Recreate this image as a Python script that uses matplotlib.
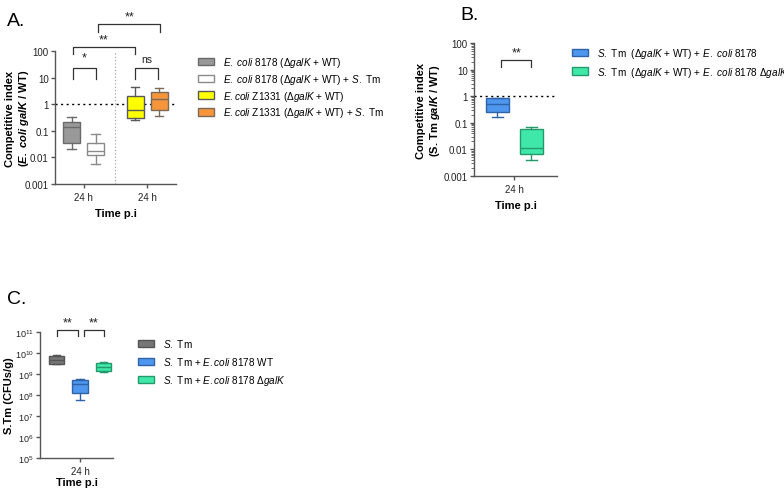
import matplotlib
matplotlib.use("Agg")
import matplotlib.pyplot as plt
from matplotlib.patches import Patch

plt.rcParams['font.family'] = ['Liberation Sans', 'DejaVu Sans']
plt.rcParams['mathtext.fontset'] = 'custom'
plt.rcParams['mathtext.rm'] = 'Liberation Sans'
plt.rcParams['mathtext.it'] = 'Liberation Sans:italic'
plt.rcParams['mathtext.bf'] = 'Liberation Sans:bold'
plt.rcParams['mathtext.bfit'] = 'Liberation Sans:italic:bold'

# panel A: competitive index E. coli galK / WT
a_labels = [r"$\mathit{E.\ coli}$ 8178 (Δ$\mathit{galK}$ + WT)",
            r"$\mathit{E.\ coli}$ 8178 (Δ$\mathit{galK}$ + WT) + $\mathit{S.}$ Tm",
            r"$\mathit{E.coli}$ Z1331 (Δ$\mathit{galK}$ + WT)",
            r"$\mathit{E.coli}$ Z1331 (Δ$\mathit{galK}$ + WT) + $\mathit{S.}$ Tm"]
a_pos = [0, 1, 2.65, 3.65]
a_whislo = [0.02, 0.0055, 0.26, 0.35]
a_q1 = [0.036, 0.012, 0.30, 0.60]
a_med = [0.14, 0.017, 0.60, 1.6]
a_q3 = [0.22, 0.034, 2.0, 2.8]
a_whishi = [0.33, 0.075, 4.5, 4.0]
a_face = ['#999999', '#ffffff', '#ffff00', '#f7953b']
a_edge = ['#6a6a6a', '#8a8a8a', '#5a5a5a', '#7a6a5a']

# panel B: competitive index S. Tm galK / WT
b_labels = [r"$\mathit{S.}$ Tm  (Δ$\mathit{galK}$ + WT) + $\mathit{E.\ coli}$ 8178",
            r"$\mathit{S.}$ Tm  (Δ$\mathit{galK}$ + WT) + $\mathit{E.\ coli}$ 8178 Δ$\mathit{galK}$"]
b_pos = [0, 1]
b_whislo = [0.16, 0.004]
b_q1 = [0.25, 0.007]
b_med = [0.5, 0.011]
b_q3 = [0.85, 0.06]
b_whishi = [0.88, 0.07]
b_face = ['#4f97ee', '#3fe8a8']
b_edge = ['#2f63a8', '#249a6c']

# panel C: S. Tm CFU/g
c_labels = [r"$\mathit{S.}$ Tm",
            r"$\mathit{S.}$ Tm + $\mathit{E.coli}$ 8178 WT",
            r"$\mathit{S.}$ Tm + $\mathit{E.coli}$ 8178 Δ$\mathit{galK}$"]
c_pos = [0, 1, 2]
c_whislo = [3.0e9, 6.0e7, 1.3e9]
c_q1 = [3.0e9, 1.2e8, 1.4e9]
c_med = [4.7e9, 3.5e8, 2.2e9]
c_q3 = [7.2e9, 5.4e8, 3.4e9]
c_whishi = [8.0e9, 5.7e8, 3.6e9]
c_face = ['#777777', '#4f97ee', '#3fe8a8']
c_edge = ['#555555', '#2f63a8', '#249a6c']

W, H = 784, 489
fig = plt.figure(figsize=(W / 100, H / 100), dpi=100)


def px_axes(left, right, top, bottom):
    return fig.add_axes([left / W, 1 - bottom / H, (right - left) / W, (bottom - top) / H])


def boxes(ax, pos, lo, q1, med, q3, hi, face, edge, width):
    for i in range(len(pos)):
        st = [dict(whislo=lo[i], q1=q1[i], med=med[i], q3=q3[i], whishi=hi[i], fliers=[])]
        ax.bxp(st, positions=[pos[i]], widths=width, showfliers=False, patch_artist=True,
               boxprops=dict(facecolor=face[i], edgecolor=edge[i], linewidth=1),
               medianprops=dict(color=edge[i], linewidth=1),
               whiskerprops=dict(color=edge[i], linewidth=1),
               capprops=dict(color=edge[i], linewidth=1), capwidths=width * 0.5)


def style(ax, label_x, xpad=3, labelpad=4):
    for s in ['top', 'right']:
        ax.spines[s].set_visible(False)
    for s in ['left', 'bottom']:
        ax.spines[s].set_color('#555555')
        ax.spines[s].set_linewidth(1)
    ax.tick_params(axis='both', colors='#555555', labelcolor='#222222', labelsize=7,
                   length=3, width=1, pad=1.5)
    ax.tick_params(axis='x', pad=xpad)
    ax.set_xlabel('Time p.i', fontsize=8, fontweight='bold', labelpad=labelpad)
    ax.yaxis.set_label_coords(label_x, 0.5)


def bracket(ax, x1, x2, ytop, yend, text, ytext, size=9):
    ax.plot([x1, x1, x2, x2], [yend, ytop, ytop, yend], color='#333333', lw=0.9, clip_on=False)
    ax.text((x1 + x2) / 2, ytext, text, ha='center', va='center', fontsize=size,
            color='#222222', clip_on=False)


# ---------- A ----------
axA = px_axes(55, 176, 52, 185)
boxes(axA, a_pos, a_whislo, a_q1, a_med, a_q3, a_whishi, a_face, a_edge, 0.7)
axA.set_yscale('log')
axA.set_ylim(0.001, 100)
axA.set_yticks([0.001, 0.01, 0.1, 1, 10, 100])
axA.set_yticklabels(['0.001', '0.01', '0.1', '1', '10', '100'])
axA.minorticks_off()
axA.set_xlim(-0.69, 4.35)
axA.set_xticks([0.5, 3.15])
axA.set_xticklabels(['24 h', '24 h'])
axA.axhline(1, color='black', ls=(0, (1.5, 2.5)), lw=1, zorder=0.5)
axA.axvline(1.81, color='#999999', ls=(0, (1, 2)), lw=0.8, zorder=0.5)
axA.set_ylabel('Competitive index\n(' + r'$\mathbfit{E.\ coli\ galK}$' + ' / WT)',
               fontsize=8, fontweight='bold')
style(axA, (31 - 55) / 121)
bracket(axA, 0.06, 1.0, 23, 8.5, '*', 55, 9)
bracket(axA, 2.65, 3.6, 23, 8.5, 'ns', 48, 7.5)
bracket(axA, 0.06, 2.65, 141, 77, '**', 283, 9)
bracket(axA, 1.1, 3.7, 1035, 518, '**', 2070, 9)
axA.legend([Patch(facecolor=f, edgecolor=e) for f, e in zip(a_face, a_edge)], a_labels,
           loc='upper left', bbox_to_anchor=(194 / W, 1 - 52 / H), bbox_transform=fig.transFigure,
           frameon=False, fontsize=7.2, handlelength=1.6, handleheight=0.8,
           handletextpad=0.9, labelspacing=0.28, borderaxespad=0)
fig.text(7 / W, 1 - 21 / H, 'A.', fontsize=14, va='center', ha='left')

# ---------- B ----------
axB = px_axes(474, 557, 44, 177)
boxes(axB, b_pos, b_whislo, b_q1, b_med, b_q3, b_whishi, b_face, b_edge, 0.68)
axB.set_yscale('log')
axB.set_ylim(0.001, 100)
axB.set_yticks([0.001, 0.01, 0.1, 1, 10, 100])
axB.set_yticklabels(['0.001', '0.01', '0.1', '1', '10', '100'])
axB.set_xlim(-0.69, 1.75)
axB.set_xticks([0.5])
axB.set_xticklabels(['24 h'])
axB.axhline(1, color='black', ls=(0, (1.5, 2.5)), lw=1, zorder=0.5)
axB.set_ylabel('Competitive index\n(S. Tm ' + r'$\mathbfit{galK}$' + ' / WT)',
               fontsize=8, fontweight='bold')
style(axB, (442 - 474) / 83)
axB.tick_params(axis='y', which='minor', colors='#555555', length=2, width=0.6)
bracket(axB, 0.1, 1.0, 23, 13, '**', 46, 9)
axB.legend([Patch(facecolor=f, edgecolor=e) for f, e in zip(b_face, b_edge)], b_labels,
           loc='upper left', bbox_to_anchor=(568 / W, 1 - 43 / H), bbox_transform=fig.transFigure,
           frameon=False, fontsize=7.2, handlelength=1.6, handleheight=0.8,
           handletextpad=0.9, labelspacing=0.45, borderaxespad=0)
fig.text(460 / W, 1 - 16 / H, 'B.', fontsize=14, va='center', ha='left')

# ---------- C ----------
axC = px_axes(40, 113, 333, 459)
boxes(axC, c_pos, c_whislo, c_q1, c_med, c_q3, c_whishi, c_face, c_edge, 0.64)
axC.set_yscale('log')
axC.set_ylim(1e5, 1e11)
axC.set_yticks([1e5, 1e6, 1e7, 1e8, 1e9, 1e10, 1e11])
axC.minorticks_off()
axC.set_xlim(-0.7, 2.4)
axC.set_xticks([1])
axC.set_xticklabels(['24 h'])
axC.set_ylabel('S.Tm (CFUs/g)', fontsize=8, fontweight='bold')
style(axC, (14 - 40) / 73, xpad=2.5, labelpad=1)
axC.tick_params(axis='y', labelsize=6.5)
bracket(axC, 0.02, 0.92, 1.25e11, 6.5e10, '**', 3.0e11, 9)
bracket(axC, 1.16, 2.0, 1.25e11, 6.5e10, '**', 3.0e11, 9)
axC.legend([Patch(facecolor=f, edgecolor=e) for f, e in zip(c_face, c_edge)], c_labels,
           loc='upper left', bbox_to_anchor=(134 / W, 1 - 334 / H), bbox_transform=fig.transFigure,
           frameon=False, fontsize=7.2, handlelength=1.6, handleheight=0.8,
           handletextpad=0.9, labelspacing=0.6, borderaxespad=0)
fig.text(7 / W, 1 - 300 / H, 'C.', fontsize=14, va='center', ha='left')

fig.savefig('out.png', dpi=100)
